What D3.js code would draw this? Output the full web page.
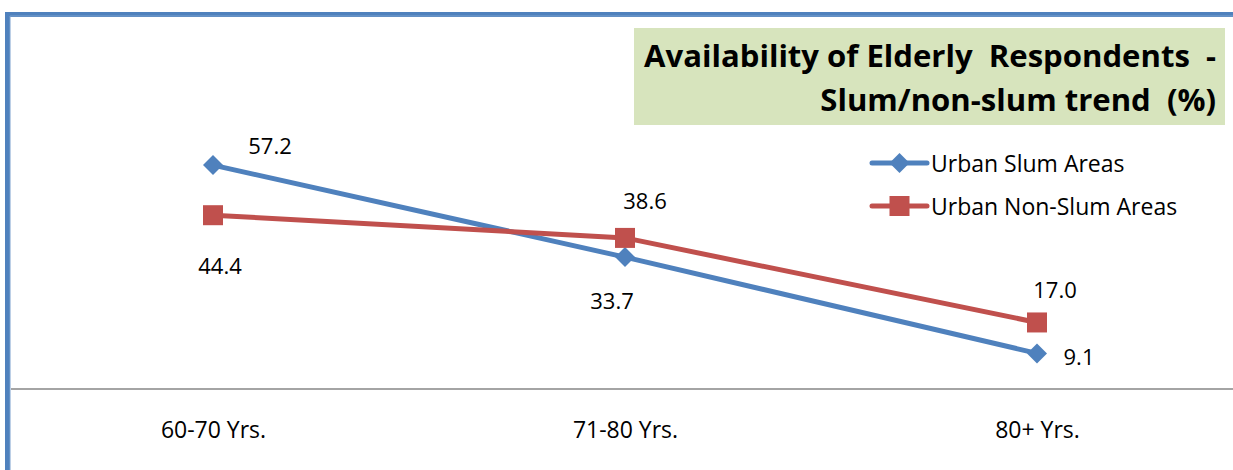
<!DOCTYPE html>
<html>
<head>
<meta charset="utf-8">
<script src="https://cdnjs.cloudflare.com/ajax/libs/d3/7.8.5/d3.min.js"></script>
<style>
  body { margin: 0; background: #fff; }
  svg { display: block; font-family: "Open Sans", "Liberation Sans", Arial, sans-serif; }
</style>
</head>
<body>
<svg id="chart" width="1233" height="470"></svg>
<script>
const categories = ["60-70 Yrs.", "71-80 Yrs.", "80+ Yrs."];
const slumValues = [57.2, 33.7, 9.1];
const nonSlumValues = [44.4, 38.6, 17.0];
const seriesNames = ["Urban Slum Areas", "Urban Non-Slum Areas"];
const titleLines = ["Availability of Elderly  Respondents  -", "Slum/non-slum trend  (%)"];

// label offsets relative to each point (px)
const slumLabelOffset = [[57, -20], [-13, 43], [42, 3]];
const nonSlumLabelOffset = [[7, 50], [20, -38], [18, -33]];

const svg = d3.select("#chart");
const W = 1233, H = 470;

const x = d3.scalePoint().domain(categories).range([213, 1037]);
const y = d3.scaleLinear().domain([0, 70]).range([389, 115]);

// outer frame (left + top blue border)
svg.append("path")
  .attr("d", "M7.5,470 V14.5 H1233")
  .attr("fill", "none")
  .attr("stroke", "#4F81BD")
  .attr("stroke-width", 5);
svg.append("path")
  .attr("d", "M10,470 V16 H1233")
  .attr("fill", "none")
  .attr("stroke", "#7BA0CD")
  .attr("stroke-width", 1);

// category axis
const xAxis = svg.append("g")
  .attr("transform", `translate(0,${y(0)})`)
  .call(d3.axisBottom(x).tickSize(0).tickPadding(33));
xAxis.select(".domain").remove();
xAxis.append("line")
  .attr("x1", 11).attr("x2", W)
  .attr("stroke", "#868686").attr("stroke-width", 1.5);
xAxis.selectAll(".tick text")
  .attr("font-family", "Open Sans, Liberation Sans, Arial, sans-serif")
  .attr("font-size", 23)
  .attr("fill", "#000");

// title box
const tb = svg.append("g");
tb.append("rect")
  .attr("x", 634).attr("y", 28).attr("width", 591).attr("height", 97)
  .attr("fill", "#D7E4BD");
const titles = tb.selectAll("text").data(titleLines).join("text")
  .attr("x", 1216)
  .attr("y", (d, i) => 67 + i * 44)
  .attr("text-anchor", "end")
  .attr("font-size", 30)
  .attr("font-weight", "bold")
  .attr("fill", "#000")
  .style("white-space", "pre")
  .text(d => d);
// fit the first title line to the box width
const w0 = titles.node().getComputedTextLength();
titles.attr("font-size", 30 * 572 / w0);

const series = [
  { name: seriesNames[0], values: slumValues, color: "#4F81BD", marker: "diamond", offs: slumLabelOffset },
  { name: seriesNames[1], values: nonSlumValues, color: "#C0504D", marker: "square", offs: nonSlumLabelOffset }
];

const line = d3.line().x((d, i) => x(categories[i])).y(d => y(d));

function drawMarker(g, type, color) {
  if (type === "diamond") {
    g.append("path").attr("d", "M0,-10 L10,0 L0,10 L-10,0 Z").attr("fill", color);
  } else {
    g.append("rect").attr("x", -10).attr("y", -10).attr("width", 20).attr("height", 20).attr("fill", color);
  }
}

series.forEach(s => {
  svg.append("path")
    .datum(s.values)
    .attr("d", line)
    .attr("fill", "none")
    .attr("stroke", s.color)
    .attr("stroke-width", 5);
  s.values.forEach((v, i) => {
    const g = svg.append("g").attr("transform", `translate(${x(categories[i])},${y(v)})`);
    drawMarker(g, s.marker, s.color);
    g.append("text")
      .attr("x", s.offs[i][0]).attr("y", s.offs[i][1])
      .attr("text-anchor", "middle")
      .attr("dominant-baseline", "central")
      .attr("font-size", 22)
      .attr("fill", "#000")
      .text(v.toFixed(1));
  });
});

// legend
const legend = svg.append("g");
series.forEach((s, i) => {
  const g = legend.append("g").attr("transform", `translate(872,${163 + i * 43})`);
  g.append("line").attr("x1", 0).attr("x2", 55)
    .attr("stroke", s.color).attr("stroke-width", 5).attr("stroke-linecap", "round");
  const m = g.append("g").attr("transform", "translate(27.5,0)");
  drawMarker(m, s.marker, s.color);
  g.append("text")
    .attr("x", 59).attr("y", 0)
    .attr("dominant-baseline", "central")
    .attr("font-size", 23)
    .attr("fill", "#000")
    .text(s.name);
});
</script>
</body>
</html>
